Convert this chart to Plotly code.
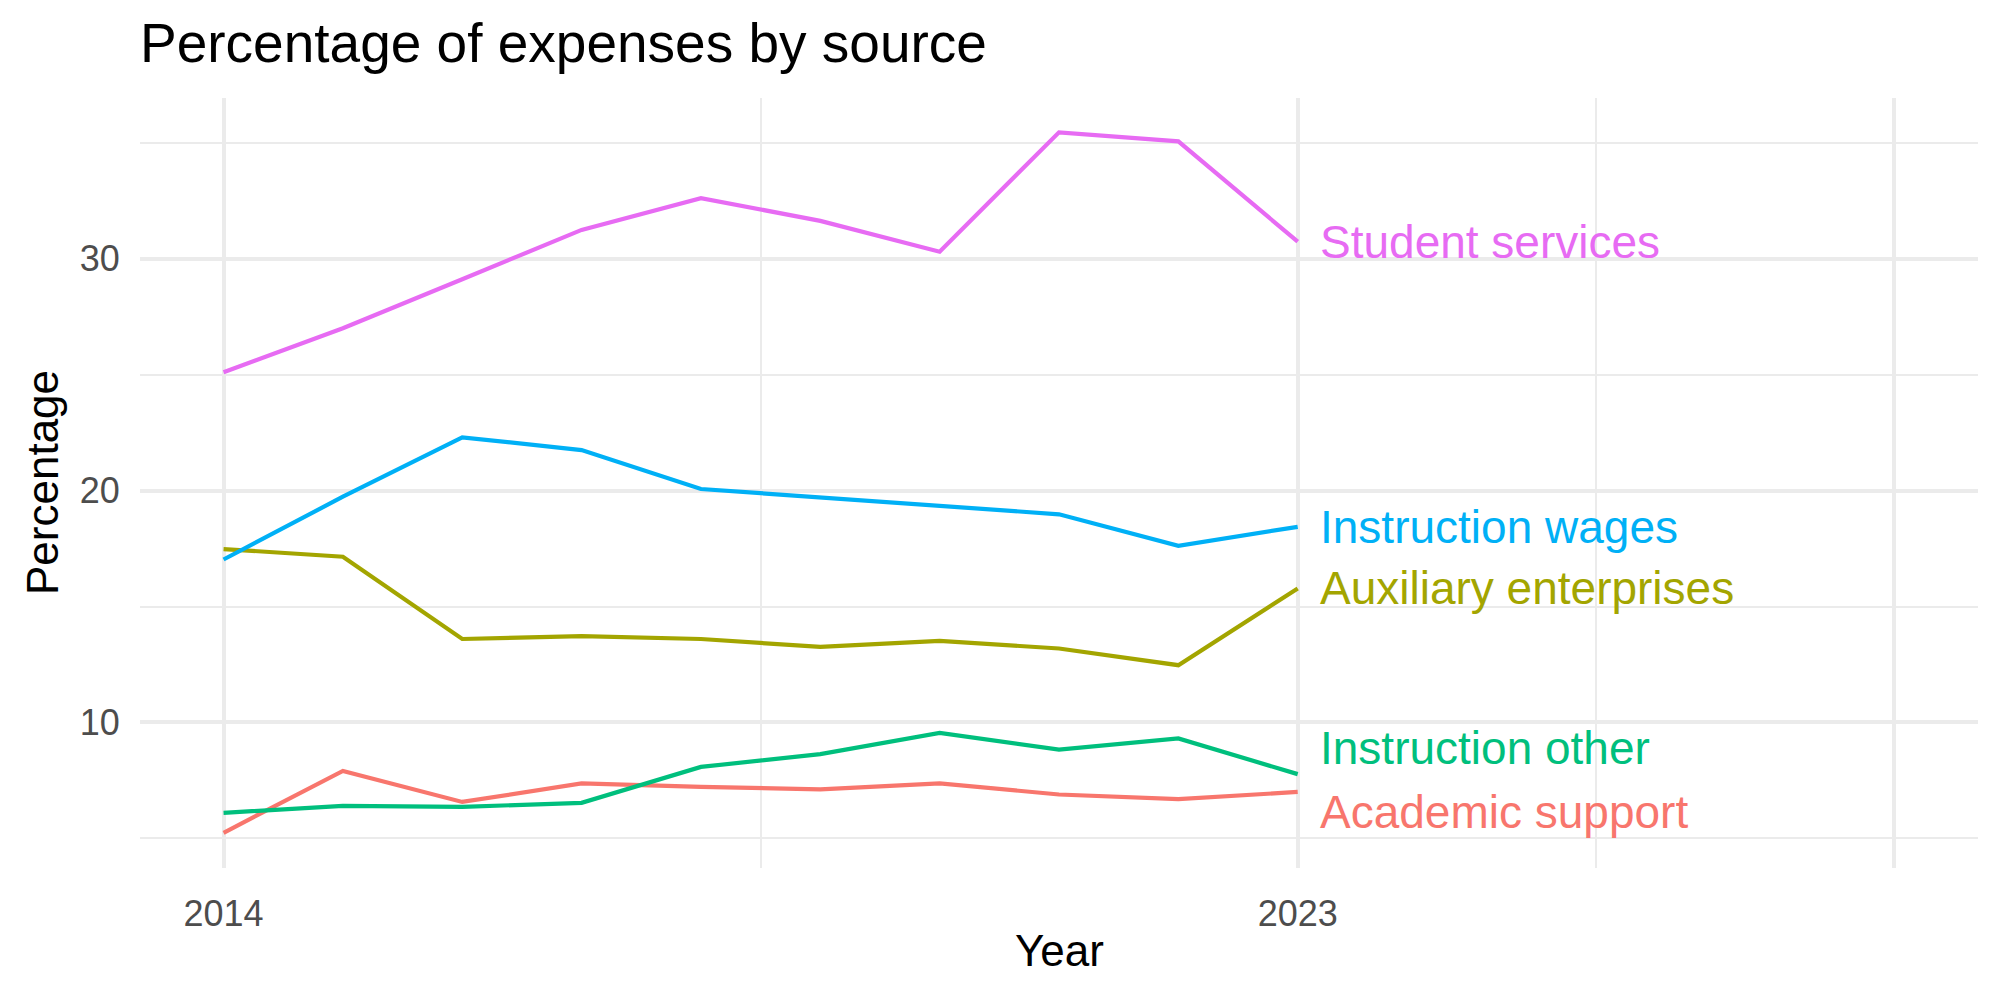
import plotly.graph_objects as go

years = [2014, 2015, 2016, 2017, 2018, 2019, 2020, 2021, 2022, 2023]
series_names = ["Academic support", "Auxiliary enterprises", "Instruction other",
                "Instruction wages", "Student services"]
academic_support = [5.24, 7.91, 6.57, 7.37, 7.22, 7.11, 7.37, 6.89, 6.69, 7.00]
auxiliary_enterprises = [17.48, 17.15, 13.60, 13.72, 13.60, 13.26, 13.52, 13.19, 12.47, 15.78]
instruction_other = [6.10, 6.40, 6.36, 6.53, 8.08, 8.63, 9.55, 8.83, 9.31, 7.77]
instruction_wages = [17.03, 19.74, 22.30, 21.75, 20.07, 19.71, 19.34, 18.98, 17.62, 18.44]
student_services = [25.11, 27.01, 29.12, 31.25, 32.62, 31.64, 30.31, 35.46, 35.07, 30.74]
# label y positions (repelled labels at the line ends)
label_y = [6.14, 15.78, 8.89, 18.44, 30.74]
colors = ["#F8766D", "#A3A500", "#00BF7D", "#00B0F6", "#E76BF3"]
values = [academic_support, auxiliary_enterprises, instruction_other,
          instruction_wages, student_services]

x_major = [2014, 2023, 2028]
x_major_text = ["2014", "2023", ""]
x_minor = [2018.5, 2025.5]
y_major = [10, 20, 30]
y_minor = [5, 15, 25, 35]

FONT = "Liberation Sans, Arial, Helvetica, sans-serif"

fig = go.Figure()
for name, vals, col in zip(series_names, values, colors):
    fig.add_trace(go.Scatter(x=years, y=vals, mode="lines", name=name,
                             line=dict(color=col, width=4.2), showlegend=False,
                             hoverinfo="x+y+name"))

annotations = []
for name, ly, col in zip(series_names, label_y, colors):
    annotations.append(dict(x=years[-1] + 0.17, y=ly, xref="x", yref="y", text=name,
                            showarrow=False, xanchor="left", yanchor="middle",
                            font=dict(family=FONT, size=46, color=col)))
annotations.append(dict(x=0.5, y=0, xref="paper", yref="paper", text="Year",
                        showarrow=False, xanchor="center", yanchor="middle", yshift=-82,
                        font=dict(family=FONT, size=44, color="black")))
annotations.append(dict(x=0, y=0.5, xref="paper", yref="paper", text="Percentage",
                        showarrow=False, xanchor="center", yanchor="middle", xshift=-98,
                        textangle=-90,
                        font=dict(family=FONT, size=44, color="black")))

fig.update_layout(
    width=2000, height=1000,
    margin=dict(l=140, r=22, t=98, b=132),
    paper_bgcolor="white", plot_bgcolor="white",
    title=dict(text="Percentage of expenses by source", x=0, xref="paper", xanchor="left",
               y=1 - 43 / 1000, yref="container", yanchor="middle",
               font=dict(family=FONT, size=55, color="black")),
    annotations=annotations,
    xaxis=dict(range=[2013.3, 2028.7], tickvals=x_major, ticktext=x_major_text,
               showgrid=True, gridcolor="#EBEBEB", gridwidth=3.8, zeroline=False,
               showline=False, ticks="outside", ticklen=14, tickcolor="rgba(0,0,0,0)",
               tickfont=dict(family=FONT, size=36, color="#4D4D4D"),
               minor=dict(tickvals=x_minor, showgrid=True, gridcolor="#EBEBEB", gridwidth=1.9)),
    yaxis=dict(range=[3.72, 36.94], tickvals=y_major,
               showgrid=True, gridcolor="#EBEBEB", gridwidth=3.8, zeroline=False,
               showline=False, ticks="outside", ticklen=12, tickcolor="rgba(0,0,0,0)",
               tickfont=dict(family=FONT, size=36, color="#4D4D4D"),
               minor=dict(tickvals=y_minor, showgrid=True, gridcolor="#EBEBEB", gridwidth=1.9)),
)

fig.write_html("out.html")
